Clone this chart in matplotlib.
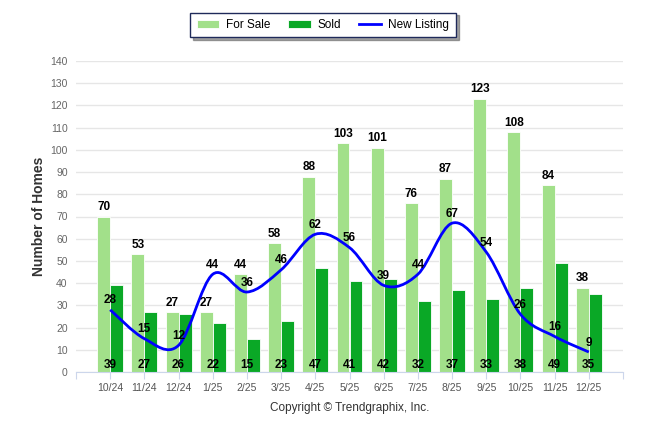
import numpy as np
import matplotlib.pyplot as plt
from matplotlib.path import Path
from matplotlib.patches import PathPatch

plt.rcParams['font.family'] = ['Liberation Sans', 'DejaVu Sans']

# 数据
months = ['10/24', '11/24', '12/24', '1/25', '2/25', '3/25', '4/25', '5/25',
          '6/25', '7/25', '8/25', '9/25', '10/25', '11/25', '12/25']
for_sale = [70, 53, 27, 27, 44, 58, 88, 103, 101, 76, 87, 123, 108, 84, 38]
sold = [39, 27, 26, 22, 15, 23, 47, 41, 42, 32, 37, 33, 38, 49, 35]
new_listing = [28, 15, 12, 44, 36, 46, 62, 56, 39, 44, 67, 54, 26, 16, 9]

c_sale = '#a2e08a'
c_sold = '#0aa826'
c_new = '#0000ff'

fig = plt.figure(figsize=(6.46, 4.34), dpi=100)
ax = fig.add_axes([76 / 646, 1 - 372 / 434, 547 / 646, 311 / 434])

x = np.arange(len(months))
w = 0.38
h1 = ax.bar(x - w / 2, for_sale, w, color=c_sale, edgecolor='white', linewidth=0.6, label='For Sale', zorder=2)
h2 = ax.bar(x + w / 2, sold, w, color=c_sold, edgecolor='white', linewidth=0.6, label='Sold', zorder=2)

# 平滑曲线 (Catmull-Rom -> Bezier)
pts = np.column_stack([x, new_listing]).astype(float)
verts = [pts[0]]
codes = [Path.MOVETO]
n = len(pts)
for i in range(n - 1):
    p0 = pts[i - 1] if i > 0 else pts[i]
    p1, p2 = pts[i], pts[i + 1]
    p3 = pts[i + 2] if i + 2 < n else pts[i + 1]
    verts += [p1 + (p2 - p0) / 6, p2 - (p3 - p1) / 6, p2]
    codes += [Path.CURVE4] * 3
ax.add_patch(PathPatch(Path(verts, codes), facecolor='none', edgecolor=c_new, lw=2, zorder=3))
h3, = ax.plot([], [], color=c_new, lw=2, label='New Listing')

# 数值标签
for i in range(n):
    ax.text(x[i] - w / 2, for_sale[i] + 1.5, str(for_sale[i]), ha='center', va='bottom',
            fontsize=8.5, fontweight='bold', zorder=4)
    ax.text(x[i], 0.6, str(sold[i]), ha='center', va='bottom',
            fontsize=8.5, fontweight='bold', zorder=4)
    ax.text(x[i], new_listing[i] + 1.5, str(new_listing[i]), ha='center', va='bottom',
            fontsize=8.5, fontweight='bold', zorder=4)

ax.set_xlim(-1, 15)
ax.set_ylim(0, 140)
ax.set_yticks(range(0, 141, 10))
ax.set_xticks(np.arange(-1, 16))
ax.set_xticklabels([''] + months + [''])
ax.grid(axis='y', color='#e6e6e6', lw=1, zorder=0)
ax.tick_params(axis='y', length=0, labelsize=7.5, labelcolor='#666666', pad=6)
ax.tick_params(axis='x', length=5, color='#ccd6eb', labelsize=7.5, labelcolor='#555555', pad=3)
for s in ['top', 'right', 'left']:
    ax.spines[s].set_visible(False)
ax.spines['bottom'].set_color('#ccd6eb')

ax.set_ylabel('Number of Homes', fontsize=10, fontweight='bold', color='#333333', labelpad=3)

fig.text(350 / 646, 1 - 408 / 434, 'Copyright © Trendgraphix, Inc.', ha='center', va='center',
         fontsize=8.5, color='#333333')

leg = fig.legend([h1, h2, h3], ['For Sale', 'Sold', 'New Listing'], loc='center',
                 bbox_to_anchor=(323 / 646, 1 - 25 / 434), ncol=3, fontsize=8.5,
                 frameon=True, fancybox=False, shadow=True, handlelength=1.9, handleheight=0.7,
                 columnspacing=1.5, handletextpad=0.6, borderpad=0.55)
leg.get_frame().set_edgecolor('#1f2a5a')
leg.get_frame().set_linewidth(1)

fig.savefig('out.png', dpi=100)
